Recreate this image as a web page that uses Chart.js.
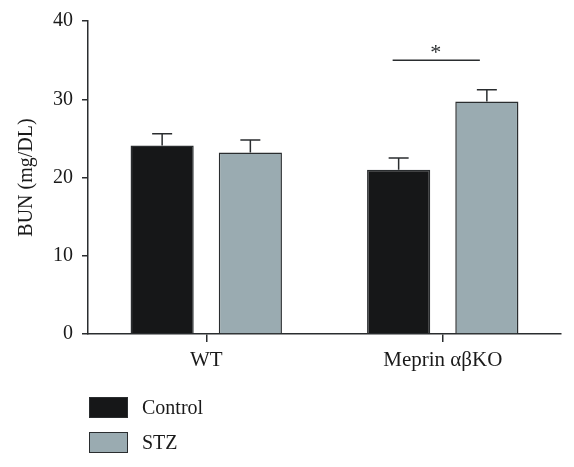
<!DOCTYPE html>
<html><head><meta charset="utf-8">
<script src="https://cdn.jsdelivr.net/npm/chart.js@4/dist/chart.umd.min.js"></script>
<style>
html,body{margin:0;padding:0;background:#fff;}
#wrap{position:relative;width:574px;height:467px;}
#legend{position:absolute;left:89px;top:397px;font-family:"Liberation Serif",serif;font-size:20px;color:#1a1a1a;}
.li{display:flex;align-items:center;height:21px;margin-bottom:14px;}
.sw{width:37px;height:19px;border:1px solid #2a2d2f;margin-right:14px;box-sizing:content-box;}
</style></head>
<body><div id="wrap"><canvas id="c" width="574" height="467"></canvas><div id="legend"></div></div>
<script>
const categories = ["WT", "Meprin αβKO"];
const seriesNames = ["Control", "STZ"];
const controlValues = [24.1, 21.0];
const stzValues = [23.2, 29.7];
const controlErrors = [1.5, 1.5];
const stzErrors = [1.6, 1.5];
const yTicks = [0, 10, 20, 30, 40];
const sigValue = 35.0;
const sigLabel = "*";

const colors = ["#161718", "#9aabb1"];
const FONT = "Liberation Serif";

const errPlugin = {
  id: 'errs',
  afterDatasetsDraw(chart) {
    const ctx = chart.ctx, y = chart.scales.y;
    const errs = [controlErrors, stzErrors];
    const vals = [controlValues, stzValues];
    ctx.save();
    ctx.strokeStyle = '#2a2d2f';
    ctx.lineWidth = 1.5;
    chart.data.datasets.forEach((ds, di) => {
      chart.getDatasetMeta(di).data.forEach((bar, i) => {
        const top = y.getPixelForValue(vals[di][i] + errs[di][i]);
        const base = y.getPixelForValue(vals[di][i]);
        ctx.beginPath();
        ctx.moveTo(bar.x, base); ctx.lineTo(bar.x, top);
        ctx.moveTo(bar.x - 10, top); ctx.lineTo(bar.x + 10, top);
        ctx.stroke();
      });
    });
    const b0 = chart.getDatasetMeta(0).data[1], b1 = chart.getDatasetMeta(1).data[1];
    const sy = y.getPixelForValue(sigValue);
    ctx.beginPath();
    ctx.moveTo(b0.x - 6, sy); ctx.lineTo(b1.x - 7, sy);
    ctx.stroke();
    ctx.fillStyle = '#2a2d2f';
    ctx.font = '22px "' + FONT + '"';
    ctx.textAlign = 'center';
    ctx.textBaseline = 'middle';
    ctx.fillText(sigLabel, (b0.x + b1.x) / 2 - 7, sy - 7);
    ctx.restore();
  }
};

const chart = new Chart(document.getElementById('c'), {
  type: 'bar',
  data: {
    labels: categories,
    datasets: [
      { label: seriesNames[0], data: controlValues, backgroundColor: colors[0], borderColor: '#2a2d2f', borderWidth: 1.5 },
      { label: seriesNames[1], data: stzValues, backgroundColor: colors[1], borderColor: '#2a2d2f', borderWidth: 1.5 }
    ]
  },
  options: {
    responsive: false,
    animation: false,
    devicePixelRatio: 1,
    datasets: { bar: { categoryPercentage: 0.746, barPercentage: 0.716 } },
    layout: { padding: { left: 10, top: 20, right: 13, bottom: 93 } },
    plugins: { legend: { display: false }, tooltip: { enabled: false } },
    scales: {
      x: {
        offset: true,
        grid: { display: true, drawOnChartArea: false, offset: false, tickLength: 8, color: '#2a2d2f', lineWidth: 1.5 },
        border: { display: true, color: '#2a2d2f', width: 1.5 },
        ticks: { color: '#1a1a1a', font: { family: FONT, size: 21 }, padding: 6 },
        afterFit(s) { s.height = 40; }
      },
      y: {
        min: 0, max: 40,
        afterBuildTicks(s) { s.ticks = yTicks.map(v => ({ value: v })); },
        grid: { display: true, drawOnChartArea: false, tickLength: 6, color: '#2a2d2f', lineWidth: 1.5 },
        border: { display: true, color: '#2a2d2f', width: 1.5 },
        ticks: { color: '#1a1a1a', font: { family: FONT, size: 20 }, padding: 9 },
        title: { display: true, text: 'BUN (mg/DL)', color: '#1a1a1a', font: { family: FONT, size: 20 }, padding: { top: 5, bottom: 0 } },
        afterFit(s) { s.width = 78; }
      }
    }
  },
  plugins: [errPlugin]
});

const lg = document.getElementById('legend');
chart.data.datasets.forEach((ds) => {
  const d = document.createElement('div'); d.className = 'li';
  const sw = document.createElement('span'); sw.className = 'sw'; sw.style.background = ds.backgroundColor;
  const t = document.createElement('span'); t.textContent = ds.label;
  d.appendChild(sw); d.appendChild(t); lg.appendChild(d);
});
</script></body></html>
